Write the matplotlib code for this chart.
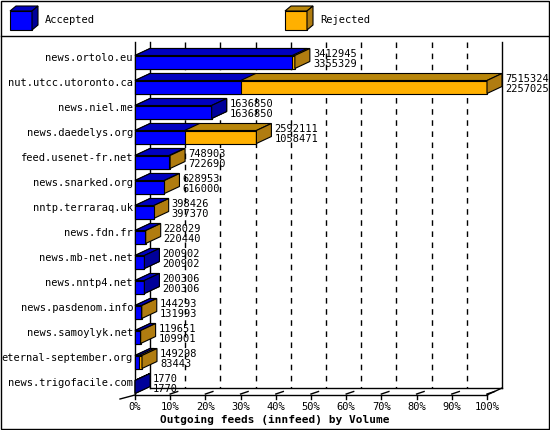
import matplotlib
matplotlib.use("Agg")
import matplotlib.pyplot as plt
from matplotlib.patches import Polygon, Rectangle

hosts = ["news.ortolo.eu", "nut.utcc.utoronto.ca", "news.niel.me", "news.daedelys.org",
         "feed.usenet-fr.net", "news.snarked.org", "nntp.terraraq.uk", "news.fdn.fr",
         "news.mb-net.net", "news.nntp4.net", "news.pasdenom.info", "news.samoylyk.net",
         "eternal-september.org", "news.trigofacile.com"]
offered = [3412945, 7515324, 1636850, 2592111, 748903, 628953, 398426, 228029,
           200902, 200306, 144293, 119651, 149298, 1770]
accepted = [3355329, 2257025, 1636850, 1058471, 722690, 616000, 397370, 220440,
            200902, 200306, 131993, 109901, 83443, 1770]
ticks = [0, 10, 20, 30, 40, 50, 60, 70, 80, 90, 100]

BLUE = ("#0000ff", "#0000c0", "#00009a")
ORANGE = ("#ffb000", "#b8860b", "#b07c10")
MONO = "DejaVu Sans Mono"

PX = 3.52            # pixels per percent
X0 = 135             # pixel of 0%
DX = 15 / PX         # depth, in percent
DY = 7               # depth, in pixels
H = 13               # bar face height
ROW0, STEP = 62, 25

fig = plt.figure(figsize=(5.5, 4.3), dpi=100)
ax = fig.add_axes([0, 0, 1, 1])
ax.set_xlim(-X0 / PX, (550 - X0) / PX)
ax.set_ylim(430, 0)
ax.axis("off")

def px(x):
    return (x - X0) / PX

def box(x1, yc, col, side=True):
    y0, y1 = yc - H / 2, yc + H / 2
    ax.add_patch(Polygon([(0, y0), (x1, y0), (x1, y1), (0, y1)], closed=True,
                         fc=col[0], ec="black", lw=0.8, zorder=3))
    ax.add_patch(Polygon([(0, y0), (DX, y0 - DY), (x1 + DX, y0 - DY), (x1, y0)],
                         closed=True, fc=col[1], ec="black", lw=0.8, zorder=3))
    if side:
        ax.add_patch(Polygon([(x1, y0), (x1 + DX, y0 - DY), (x1 + DX, y1 - DY), (x1, y1)],
                             closed=True, fc=col[2], ec="black", lw=0.8, zorder=3))

# frame and legend
ax.add_patch(Rectangle((px(1), 1), 548 / PX, 428, fill=False, ec="black", lw=1, zorder=5))
ax.plot([px(1), px(549)], [36, 36], color="black", lw=1)
for lx, col, lab in [(10, BLUE, "Accepted"), (285, ORANGE, "Rejected")]:
    x0, x1 = px(lx), px(lx + 22)
    d = 6 / PX
    ax.add_patch(Polygon([(x0, 11), (x1, 11), (x1, 30), (x0, 30)], fc=col[0], ec="black", lw=0.8))
    ax.add_patch(Polygon([(x0, 11), (x0 + d, 6), (x1 + d, 6), (x1, 11)], fc=col[1], ec="black", lw=0.8))
    ax.add_patch(Polygon([(x1, 11), (x1 + d, 6), (x1 + d, 25), (x1, 30)], fc=col[2], ec="black", lw=0.8))
    ax.text(px(lx + 35), 20, lab, family=MONO, fontsize=7.5, va="center")

# axes frame
ybot = ROW0 + STEP * (len(hosts) - 1) + 8
ax.plot([0, 0], [42, ybot], color="black", lw=1)
ax.plot([DX, DX], [42, ybot - DY], color="black", lw=1)
ax.plot([100 + DX, 100 + DX], [42, ybot - DY], color="black", lw=1)
ax.plot([0, 100], [ybot, ybot], color="black", lw=1)
ax.plot([DX, 100 + DX], [ybot - DY, ybot - DY], color="black", lw=1)
ax.plot([100, 100 + DX], [ybot, ybot - DY], color="black", lw=1)
ax.plot([px(120), 0], [ybot + 4, ybot], color="black", lw=1)
for t in ticks:
    if 0 < t < 100:
        ax.plot([t + DX, t + DX], [42, ybot - DY], color="black", lw=1, ls=(0, (4, 4)), zorder=1)
    ax.plot([t, t], [ybot, ybot + 4], color="black", lw=1)
    if t > 0:
        ax.plot([t, t + DX * 0.5], [ybot - 1, ybot - DY / 2], color="black", lw=1)
    ax.text(t, ybot + 12, f"{t}%", family=MONO, fontsize=7.5, ha="center", va="center")
ax.text(px(275), ybot + 25, "Outgoing feeds (innfeed) by Volume", family=MONO,
        fontsize=8, fontweight="bold", ha="center", va="center")

# bars
top = max(offered)
for i, (name, off, acc) in enumerate(zip(hosts, offered, accepted)):
    yc = ROW0 + STEP * i
    po, pa = off / top * 100, acc / top * 100
    box(po, yc, ORANGE)
    box(pa, yc, BLUE, side=pa >= po)
    ax.text(-2 / PX, yc - 4, name, family=MONO, fontsize=7.5, ha="right", va="center")
    ax.text(max(po, pa) + DX + 3 / PX, yc - 8, str(off), family=MONO, fontsize=7.5, va="center", zorder=4)
    ax.text(max(po, pa) + DX + 3 / PX, yc + 2, str(acc), family=MONO, fontsize=7.5, va="center", zorder=4)

fig.savefig("out.png", dpi=100, facecolor="white")
